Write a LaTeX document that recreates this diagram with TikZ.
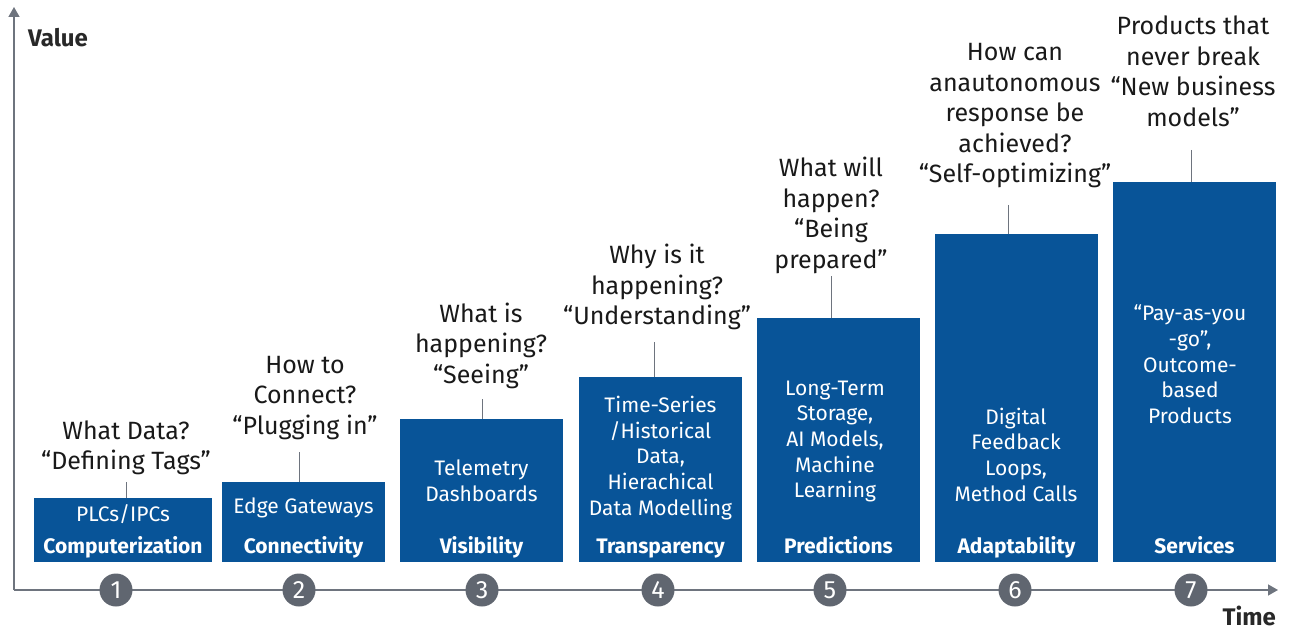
\documentclass[tikz,border=0pt]{standalone}
\usepackage{fontspec}
\setmainfont{Fira Sans}
\usetikzlibrary{arrows.meta}
\definecolor{stageblue}{RGB}{8,84,152}
\definecolor{axisgray}{RGB}{110,116,126}
\definecolor{dotgray}{RGB}{96,102,112}
\definecolor{inkgray}{RGB}{40,40,40}
\tikzset{
  x=1pt, y=-1pt,
  stagebox/.style={fill=stageblue, draw=none, inner sep=0pt},
  question/.style={align=center, text=black!90, inner sep=0pt,
    font=\fontsize{25}{30.5}\selectfont},
  boxtext/.style={align=center, text=white, inner sep=0pt,
    font=\fontsize{21}{25.7}\selectfont},
  stagename/.style={text=white, inner sep=0pt,
    font=\fontsize{21}{22}\selectfont\bfseries},
  conn/.style={draw=axisgray, line width=1pt},
  axis/.style={draw=axisgray, line width=1.4pt, -{Triangle[width=11pt,length=10pt]}},
  stepdot/.style={circle, fill=dotgray, minimum size=33pt, inner sep=0pt,
    text=white, font=\fontsize{25}{25}\selectfont},
  axislabel/.style={text=inkgray, inner sep=0pt, font=\fontsize{24}{24}\selectfont\bfseries},
}
\begin{document}
\begin{tikzpicture}
\useasboundingbox (0,0) rectangle (1296,631);

% axes
\coordinate (origin) at (14,590);
\coordinate (ytip) at (14,7);
\coordinate (xtip) at (1278,590);
\draw[axis] (origin) -- (ytip);
\draw[axis] (origin) -- (xtip);
\node[axislabel, anchor=base west] (vlabel) at (28,47) {Value};
\node[axislabel, anchor=base east] (tlabel) at (1276,625) {Time};

% stage boxes
\node[stagebox, minimum width=178pt, minimum height=64pt]  (b1) at (123,530) {};
\node[stagebox, minimum width=163pt, minimum height=80pt]  (b2) at (303.5,522) {};
\node[stagebox, minimum width=163pt, minimum height=143pt] (b3) at (481.5,490.5) {};
\node[stagebox, minimum width=163pt, minimum height=185pt] (b4) at (660.5,469.5) {};
\node[stagebox, minimum width=163pt, minimum height=244pt] (b5) at (838.5,440) {};
\node[stagebox, minimum width=163pt, minimum height=328pt] (b6) at (1016.5,398) {};
\node[stagebox, minimum width=163pt, minimum height=380pt] (b7) at (1194.5,372) {};

% stage names
\foreach \i/\name in {1/Computerization,2/Connectivity,3/Visibility,4/Transparency,
  5/Predictions,6/Adaptability,7/Services}
  \node[stagename, anchor=base] (n\i) at (b\i.center |- 0,553) {\name};

% box contents
\node[boxtext] (t1) at (123,514) {PLCs/IPCs};
\node[boxtext] (t2) at (303.5,508) {Edge Gateways};
\node[boxtext] (t3) at (481.5,480.5) {Telemetry\\Dashboards};
\node[boxtext] (t4) at (660.5,458) {Time-Series\\/Historical\\Data,\\Hierachical\\Data Modelling};
\node[boxtext] (t5) at (835,441.5) {Long-Term\\Storage,\\AI Models,\\Machine\\Learning};
\node[boxtext] (t6) at (1016,454.5) {Digital\\Feedback\\Loops,\\Method Calls};
\node[boxtext] (t7) at (1190,364.5) {“Pay-as-you\\-go”,\\Outcome-\\based\\Products};

% questions
\node[question] (q1) at (126,448) {What Data?\\“Defining Tags”};
\node[question] (q2) at (305,398) {How to\\Connect?\\“Plugging in”};
\node[question] (q3) at (481,345.5) {What is\\happening?\\“Seeing”};
\node[question] (q4) at (657,287) {Why is it\\happening?\\“Understanding”};
\node[question] (q5) at (831,215.5) {What will\\happen?\\“Being\\prepared”};
\node[question] (q6) at (1015,116) {How can\\anautonomous\\response be\\achieved?\\“Self-optimizing”};
\node[question] (q7) at (1193,71.5) {Products that\\never break\\“New business\\models”};

% connectors from questions to boxes
\foreach \i/\x/\y in {1/126/482,2/299/452,3/482/399,4/654/342,5/831/276,6/1008/205,7/1191/150}{
  \coordinate (c\i top) at (\x,\y);
  \draw[conn] (c\i top) -- (c\i top |- b\i.north);
}

% timeline steps
\foreach \i/\x in {1/116,2/299,3/482,4/658,5/830,6/1015,7/1191}
  \node[stepdot] (s\i) at (\x,590) {\i};
\end{tikzpicture}
\end{document}
